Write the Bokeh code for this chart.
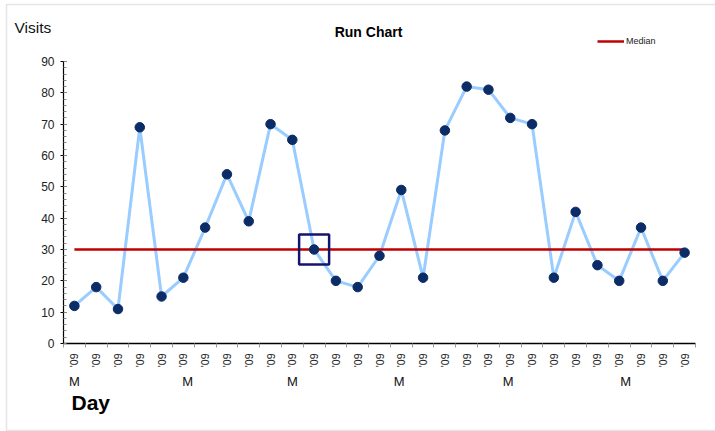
from math import pi

from bokeh.embed import file_html
from bokeh.models import (ColumnDataSource, FixedTicker, Label, Legend,
                          LegendItem, LinearAxis, PolyAnnotation, Range1d)
from bokeh.plotting import figure
from bokeh.resources import INLINE

# Daily visit counts
visits = [12, 18, 11, 69, 15, 21, 37, 54, 39, 70, 65, 30, 20, 18, 28,
          49, 21, 68, 82, 81, 72, 70, 21, 42, 25, 20, 37, 20, 29]
day_labels = ["'09"] * len(visits)
week_labels = ["M", "M", "M", "M", "M", "M"]
week_days = [0, 5.2, 10, 14.9, 19.9, 25.3]
y_ticks = [0, 10, 20, 30, 40, 50, 60, 70, 80, 90]
median_value = 30
flagged_day = 11

n = len(visits)
days = list(range(n))
FONT = "Liberation Sans"

# canvas geometry: the plotting area spans the whole canvas and the axes
# are pinned inside it, so every text can sit anywhere on the page
W, H = 715, 431
AX_LEFT, AX_RIGHT, AX_TOP, AX_BOTTOM = 63, 695, 61, 343
y_lo, y_hi = 0, 90
x_lo, x_hi = -0.5, n - 0.5
PX = (AX_RIGHT - AX_LEFT) / (x_hi - x_lo)
PY = (AX_BOTTOM - AX_TOP) / (y_hi - y_lo)
x_start = x_lo - AX_LEFT / PX
x_end = x_hi + (W - AX_RIGHT) / PX
y_start = y_lo - (H - AX_BOTTOM) / PY
y_end = y_hi + AX_TOP / PY


def fx(px):
    return x_start + px / PX


def fy(py):
    return y_end - py / PY


p = figure(width=W, height=H, output_backend="svg", toolbar_location=None,
           x_range=Range1d(x_start, x_end), y_range=Range1d(y_start, y_end),
           x_axis_type=None, y_axis_type=None,
           min_border=0, min_border_left=0, min_border_right=0,
           min_border_top=0, min_border_bottom=0)
p.outline_line_color = None
p.background_fill_color = "white"
p.border_fill_color = "white"

src = ColumnDataSource(dict(day=days, visits=visits,
                            median=[median_value] * n))

p.line("day", "visits", source=src, line_color="#99CCFF", line_width=3)
med = p.line("day", "median", source=src, line_color="#C00000",
             line_width=2.5)
p.scatter("day", "visits", source=src, size=9.5, fill_color="#0B2C66",
          line_color="#0B2C66")
p.scatter([flagged_day], [visits[flagged_day]], marker="square", size=30,
          fill_color=None, line_color="#14146E", line_width=2.5)

# y axis: major ticks cross the line, minor ticks point inward
yax = LinearAxis(fixed_location=x_lo, bounds=(y_lo, y_hi),
                 ticker=FixedTicker(ticks=y_ticks,
                                    minor_ticks=[v / 2 for v in range(0, 181, 4)]))
yax.axis_line_color = "black"
yax.axis_line_width = 1.2
yax.major_tick_in = 3
yax.major_tick_out = 3
yax.major_tick_line_color = "black"
yax.minor_tick_in = 3
yax.minor_tick_out = 0
yax.minor_tick_line_color = "#888888"
yax.major_label_text_font = FONT
yax.major_label_text_font_size = "12px"
yax.major_label_text_color = "#222222"
yax.major_label_standoff = 6
p.add_layout(yax, "left")

# x axis: one label per day, ticks between days
xax = LinearAxis(fixed_location=y_lo, bounds=(x_lo, x_hi),
                 ticker=FixedTicker(ticks=days,
                                    minor_ticks=[d - 0.5 for d in days] + [x_hi]))
xax.major_label_overrides = {d: lab for d, lab in zip(days, day_labels)}
xax.major_label_orientation = pi / 2
xax.major_label_text_font = FONT
xax.major_label_text_font_size = "10.5px"
xax.major_label_text_color = "#222222"
xax.major_label_standoff = 6
xax.axis_line_color = "black"
xax.axis_line_width = 1.5
xax.major_tick_in = 0
xax.major_tick_out = 0
xax.minor_tick_in = 0
xax.minor_tick_out = 4
xax.minor_tick_line_color = "#999999"
p.add_layout(xax, "below")


def add_text(x, y, text, size, bold=False, align="left", color="#111111"):
    p.add_layout(Label(x=x, y=y, text=text, text_font=FONT,
                       text_font_size=size,
                       text_font_style="bold" if bold else "normal",
                       text_align=align, text_baseline="middle",
                       text_color=color))


add_text(fx(14), fy(27), "Visits", "15.5px")
add_text(fx(368), fy(31), "Run Chart", "14px", bold=True, align="center",
         color="black")
add_text(fx(71), fy(402), "Day", "21px", bold=True, color="black")
for d, lab in zip(week_days, week_labels):
    add_text(d, fy(381), lab, "13px", align="center")

# outer border
p.add_layout(PolyAnnotation(xs=[6, 722, 722, 6], ys=[H - 4, H - 4, 1, 1],
                            xs_units="screen", ys_units="screen",
                            fill_color=None, line_color="#AAAAAA",
                            line_width=1.5))

legend = Legend(items=[LegendItem(label="Median", renderers=[med])],
                location=(597, H - 46), border_line_color=None,
                background_fill_alpha=0, label_text_font=FONT,
                label_text_font_size="9px", label_text_color="#222222",
                glyph_width=27, glyph_height=10, label_standoff=2,
                padding=0, margin=0, spacing=0)
p.add_layout(legend)

open("out.html", "w").write(file_html(p, INLINE))
